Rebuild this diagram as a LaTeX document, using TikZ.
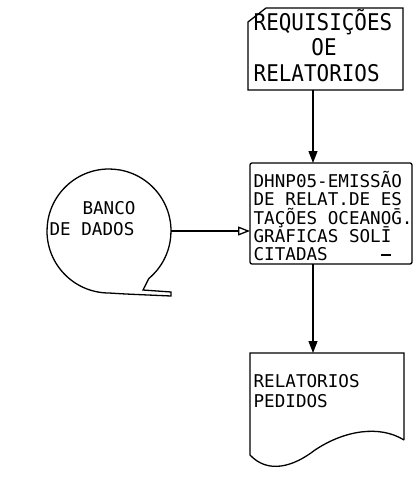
\documentclass[tikz,border=0pt]{standalone}
\usepackage{fontspec}
\newfontfamily\mono[FakeStretch=0.91]{DejaVu Sans Mono}
\newfontfamily\monosm{DejaVu Sans Mono}
\usetikzlibrary{arrows.meta,calc}
\begin{document}
\begin{tikzpicture}[x=1pt,y=-1pt,line width=1.3pt,
  lbl/.style={font=\monosm\fontsize{17.6}{17.6}\selectfont,inner sep=0pt,anchor=base west},
  lblc/.style={lbl,anchor=base},
  big/.style={font=\mono\fontsize{23}{23}\selectfont},
  frame/.style={draw=none,inner sep=0pt,outer sep=0pt},
  flow/.style={-{Triangle[length=12pt,width=9pt]}},
  flowopen/.style={-{Triangle[open,length=12pt,width=9pt]}}]
\useasboundingbox (0,0) rectangle (417,488);
\fill[white] (0,0) rectangle (417,488);

% input card
\node[frame,minimum width=155pt,minimum height=82pt] (card) at (325.5,49) {};
\draw ([yshift=-14pt]card.north west) -- ([xshift=18pt]card.north west) -- (card.north east) -- (card.south east) -- (card.south west) -- cycle;
\node[lbl,big] (c1) at (253,30) {REQUISIÇÕES};
\node[lblc,big] (c2) at (324,55) {OE};
\node[lbl,big] (c3) at (253,81) {RELATORIOS};

% process box
\node[frame,draw,rounded corners=2pt,minimum width=162pt,minimum height=101pt] (proc) at (331,213.5) {};
\node[lbl] (p1) at (253,187) {DHNP05-EMISSÃO};
\node[lbl] (p2) at (253,205.5) {DE RELAT.DE ES};
\node[lbl] (p3) at (253,224) {TAÇÕES OCEANO\={G}.};
\node[lbl] (p4) at (253,242.5) {GRAFICAS SOL\={I}};
\node[lbl] (p5) at (253,260) {CITADAS};
\draw[line width=1.2pt] (381,255) -- (391,255);

% data base (tape)
\node[frame,circle,minimum size=124pt] (tape) at (109,231) {};
\draw (171,292) -- (143,290) -- (tape.-50) arc[start angle=-50,end angle=270,radius=62pt] .. controls (125,294) .. (171,296) -- cycle;
\node[lblc] (t1) at (109,214) {BANCO};
\node[lblc] (t2) at (92,235) {DE DADOS};

% output document
\node[frame,minimum width=154pt,minimum height=87pt] (doc) at (327,396.5) {};
\draw (doc.south east) -- (doc.north east) -- (doc.north west) -- ([yshift=-15pt]doc.south west)
  .. controls (268,474) and (293,467) .. (315,450)
  .. controls (345,430) and (380,425) .. (doc.south east);
\node[lbl] (d1) at (253,387) {RELATORIOS};
\node[lbl] (d2) at (253,407) {PEDIDOS};

% connectors
\coordinate (ax) at (313,0);
\draw[flow] (card.south -| ax) -- (proc.north -| ax);
\draw[flow] (proc.south -| ax) -- (doc.north -| ax);
\draw[flowopen] (tape.east) -- (proc.west |- tape.east);
\end{tikzpicture}
\end{document}
